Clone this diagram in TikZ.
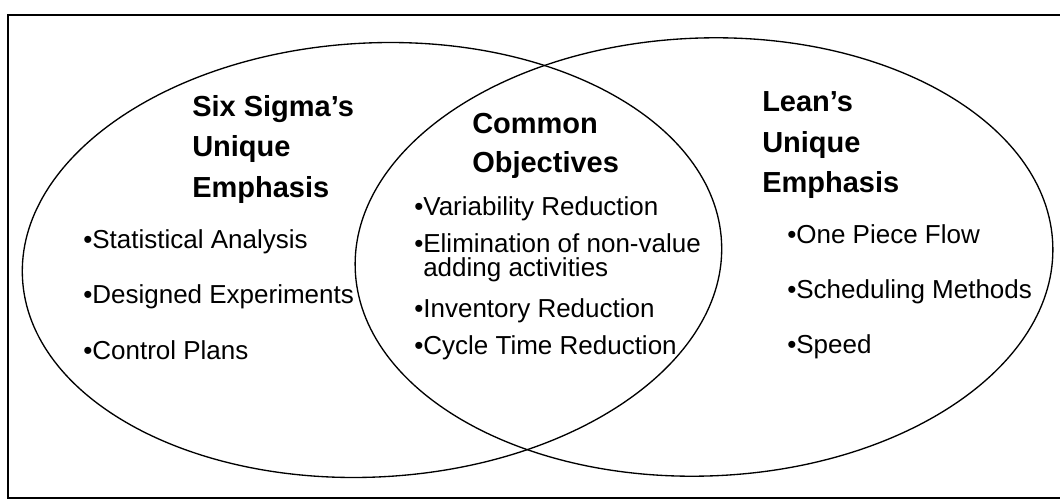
\documentclass[tikz,border=0pt]{standalone}
\usepackage{fontspec}
\setmainfont{Liberation Sans}

\begin{document}
\begin{tikzpicture}
[x=0.75pt,y=-0.75pt,%
  every node/.style={inner sep=0pt,anchor=base west},
  head/.style={font=\bfseries\fontsize{21.75}{26}\selectfont},
  item/.style={font=\fontsize{19.5}{24}\selectfont},
  set/.style={draw,line width=1pt}]
\useasboundingbox (0,0) rectangle (1060,503);
% frame, open on the right
\draw[line width=1.8pt] (1060,15) -- (8,15) -- (8,498) -- (1060,498);
% the two sets
\draw[set,shift={(372,260)},rotate=3] (0,0) ellipse [x radius=350,y radius=217];
\draw[set,shift={(704,257)},rotate=2] (0,0) ellipse [x radius=349,y radius=219];
% Six Sigma side
\node[head] (ssa) at (192,117) {Six Sigma's};
\node[head] (ssb) at (192,156) {Unique};
\node[head] (ssc) at (192,197) {Emphasis};
\node[item] (ss1) at (83,248) {\textbullet Statistical Analysis};
\node[item] (ss2) at (83,303) {\textbullet Designed Experiments};
\node[item] (ss3) at (83,359) {\textbullet Control Plans};
% common part
\node[head] (coa) at (472,133) {Common};
\node[head] (cob) at (472,172) {Objectives};
\node[item] (co1) at (414,215) {\textbullet Variability Reduction};
\node[item] (co2) at (414,252) {\textbullet Elimination of non-value};
\node[item] (co2b) at (423,276) {adding activities};
\node[item] (co3) at (414,317) {\textbullet Inventory Reduction};
\node[item] (co4) at (414,354) {\textbullet Cycle Time Reduction};
% Lean side
\node[head] (lea) at (762,111) {Lean's};
\node[head] (leb) at (762,152) {Unique};
\node[head] (lec) at (762,192) {Emphasis};
\node[item] (le1) at (787,243) {\textbullet One Piece Flow};
\node[item] (le2) at (787,298) {\textbullet Scheduling Methods};
\node[item] (le3) at (787,353) {\textbullet Speed};
\end{tikzpicture}
\end{document}
